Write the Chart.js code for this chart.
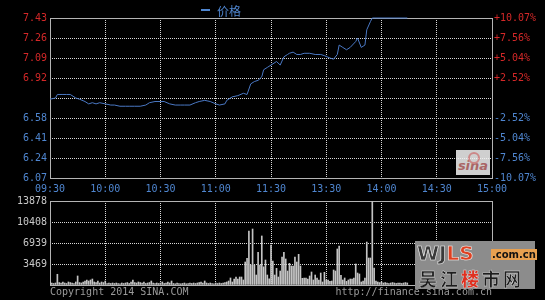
<!DOCTYPE html>
<html>
<head>
<meta charset="utf-8">
<script src="https://cdn.jsdelivr.net/npm/chart.js@4.4.0/dist/chart.umd.min.js"></script>
<style>
body { margin: 0; background: #000; }
#wrap { position: relative; width: 545px; height: 300px; background: #000; overflow: hidden; font-family: 'DejaVu Sans Mono', monospace; }
#priceChart { position: absolute; left: 0; top: 0; }
#volChart { position: absolute; left: 0; top: 190px; }
.copy { position: absolute; top: 286px; font-size: 10px; color: #9a9a9a; white-space: nowrap; }
#sina { position: absolute; left: 456px; top: 150px; width: 34px; height: 25px; background: #f4f4f4; color: #c87878; font: italic bold 13px 'DejaVu Sans', sans-serif; text-align: center; line-height: 32px; opacity: 0.85; }
#sina i { position: absolute; left: 12px; top: 2px; width: 8px; height: 8px; border: 2px solid #f0a0a0; border-radius: 50%; }
#wjls { position: absolute; left: 415px; top: 241px; width: 120px; height: 48px; background: #8c8c8c; }
#wjls .t1 { position: absolute; left: 2px; top: 0px; font: bold 20px 'DejaVu Sans', sans-serif; color: #3a3a3a; -webkit-text-stroke: 0.6px #f0f0f0; }
#wjls .t1 b { color: #e04020; }
#wjls .t2 { position: absolute; left: 76px; top: 8px; font: bold 10px 'DejaVu Sans', sans-serif; color: #111; background: #e8a050; padding: 0 1px; }
#wjls .t3 { position: absolute; left: 4px; top: 24px; font: bold 18px 'Noto Sans CJK SC', sans-serif; color: #1e1e1e; letter-spacing: 3px; -webkit-text-stroke: 0.4px #ddd; }
#wjls .t3 b { color: #e03020; }
</style>
</head>
<body>
<div id="wrap">
  <canvas id="priceChart" width="545" height="200"></canvas>
  <canvas id="volChart" width="545" height="110"></canvas>
  <div id="sina"><i></i>sina</div>
  <div id="wjls"><span class="t1">WJ<b>LS</b></span><span class="t2">.com.cn</span><span class="t3">吴江<b>楼</b>市网</span></div>
  <span class="copy" style="left:50px">Copyright 2014 SINA.COM</span>
  <span class="copy" style="right:53px">http://finance.sina.com.cn</span>
</div>
<script>
// axis values
const prevClose = 6.75;
const tickMinutes = [0, 30, 60, 90, 120, 150, 180, 210, 240];
const timeLabels = ['09:30', '10:00', '10:30', '11:00', '11:30', '13:30', '14:00', '14:30', '15:00'];
const priceTicks = [6.07, 6.24, 6.41, 6.58, 6.75, 6.92, 7.09, 7.26, 7.43];
const priceTickLabels = ['6.07', '6.24', '6.41', '6.58', '', '6.92', '7.09', '7.26', '7.43'];
const pctTickLabels = ['-10.07%', '-7.56%', '-5.04%', '-2.52%', '', '+2.52%', '+5.04%', '+7.56%', '+10.07%'];
const volTicks = [0, 3469, 6939, 10408, 13878];
const volTickLabels = ['', '3469', '6939', '10408', '13878'];

// price line, minute index from 09:30
const priceMinutes = [0, 3, 4, 7, 9, 11, 14, 16, 19, 21, 23, 25, 27, 30, 33, 35, 38, 41, 43, 46,
    49, 52, 54, 57, 60, 62, 65, 68, 71, 73, 76, 79, 81, 84, 87, 90, 92, 95, 96, 99,
    102, 105, 107, 109, 111, 113, 115, 116, 118, 120, 123, 125, 127, 129, 130, 132, 134, 136, 138, 141,
    144, 147, 149, 152, 154, 156, 157, 159, 161, 163, 166, 167, 169, 171, 172, 174, 175, 194];
const prices = [6.74, 6.75, 6.78, 6.78, 6.78, 6.78, 6.75, 6.74, 6.72, 6.70, 6.71, 6.70, 6.71, 6.70, 6.69, 6.69, 6.68, 6.68, 6.68, 6.68,
    6.68, 6.69, 6.71, 6.72, 6.72, 6.72, 6.70, 6.69, 6.69, 6.69, 6.69, 6.71, 6.72, 6.73, 6.72, 6.70, 6.69, 6.70, 6.73, 6.76,
    6.77, 6.79, 6.78, 6.87, 6.89, 6.90, 6.93, 6.99, 7.01, 7.03, 7.06, 7.03, 7.10, 7.12, 7.13, 7.14, 7.12, 7.12, 7.13, 7.13,
    7.12, 7.12, 7.11, 7.09, 7.08, 7.12, 7.20, 7.18, 7.16, 7.18, 7.23, 7.26, 7.18, 7.20, 7.33, 7.40, 7.43, 7.43];

// volume per minute
const volumes = [
    500, 330, 250, 330, 1770, 400, 330, 500, 330, 250,
    500, 400, 330, 250, 500, 1490, 400, 330, 500, 660,
    825, 660, 825, 990, 500, 400, 660, 330, 500, 400,
    660, 250, 330, 250, 330, 250, 330, 250, 200, 330,
    250, 330, 400, 250, 500, 825, 400, 330, 500, 400,
    330, 500, 250, 330, 400, 660, 330, 250, 330, 250,
    330, 500, 250, 330, 500, 330, 660, 250, 200, 330,
    250, 200, 250, 330, 200, 250, 330, 250, 330, 250,
    330, 400, 500, 330, 660, 330, 250, 330, 250, 200,
    330, 250, 330, 250, 330, 400, 500, 660, 1160, 500,
    990, 1320, 990, 1320, 1320, 830, 3800, 4400, 8920, 3300,
    9250, 3300, 1650, 5400, 3300, 8100, 3000, 4130, 1650, 1000,
    6600, 3960, 1650, 2750, 1320, 2310, 4630, 5400, 4300, 2310,
    3580, 3140, 3140, 4630, 3800, 5070, 3140, 1100, 1160, 1160,
    990, 1490, 2150, 830, 1650, 1160, 800, 1980, 500, 2100,
    830, 830, 600, 660, 2480, 2310, 5950, 6440, 1600, 830,
    1160, 600, 830, 990, 990, 1160, 3470, 1980, 1820, 500,
    660, 1160, 7100, 4460, 4460, 13878, 2810, 660, 500, 400,
    500, 330, 400, 330, 250, 330, 400, 330, 250, 330,
    330, 250, 330, 400, 330
];

const MONO = "'DejaVu Sans Mono', monospace";
const RED = '#d42828';
const BLUE = '#4f86d0';
const LINE = '#4a78c4';
const GRID = '#d8d8d8';

// solid frame round the plot area
const frame = {
    id: 'frame',
    beforeDatasetsDraw(chart) {
        const a = chart.chartArea, ctx = chart.ctx;
        ctx.save();
        ctx.strokeStyle = '#b4b4b4';
        ctx.lineWidth = 1;
        ctx.strokeRect(Math.round(a.left) + 0.5, Math.round(a.top) + 0.5, Math.round(a.right - a.left), Math.round(a.bottom - a.top));
        ctx.restore();
    }
};

const priceLegend = {
    id: 'priceLegend',
    afterDraw(chart) {
        const ctx = chart.ctx;
        ctx.save();
        ctx.fillStyle = BLUE;
        ctx.fillRect(201, 9, 9, 2);
        ctx.font = "12px 'Noto Sans CJK SC', sans-serif";
        ctx.textBaseline = 'middle';
        ctx.fillText('价格', 217, 11);
        ctx.restore();
    }
};

const tickColor = c => (c.tick && c.tick.value > prevClose ? RED : BLUE);

new Chart(document.getElementById('priceChart'), {
    type: 'line',
    data: {
        datasets: [{
            label: '价格',
            data: priceMinutes.map((m, i) => ({ x: m, y: prices[i] })),
            borderColor: LINE,
            borderWidth: 1,
            pointRadius: 0,
            tension: 0,
            clip: false,
            yAxisID: 'y'
        }]
    },
    options: {
        responsive: false,
        animation: false,
        events: [],
        layout: { padding: { top: 18, left: 0, right: 0, bottom: 0 } },
        plugins: { legend: { display: false }, tooltip: { enabled: false } },
        scales: {
            x: {
                type: 'linear', min: 0, max: 240,
                afterBuildTicks: s => { s.ticks = tickMinutes.map(v => ({ value: v })); },
                afterFit: s => { s.height = 22; },
                ticks: { color: BLUE, font: { family: MONO, size: 10 }, padding: 5, autoSkip: false, maxRotation: 0,
                    callback: (v, i) => timeLabels[i] },
                grid: { color: GRID, drawTicks: false },
                border: { display: false, dash: [1, 1] }
            },
            y: {
                position: 'left', min: 6.07, max: 7.43,
                afterBuildTicks: s => { s.ticks = priceTicks.map(v => ({ value: v })); },
                afterFit: s => { s.width = 50; },
                ticks: { color: tickColor, font: { family: MONO, size: 10 }, padding: 3,
                    callback: (v, i) => priceTickLabels[i] },
                grid: { color: GRID, drawTicks: false },
                border: { display: false, dash: [1, 1] }
            },
            yPct: {
                position: 'right', min: 6.07, max: 7.43,
                afterBuildTicks: s => { s.ticks = priceTicks.map(v => ({ value: v })); },
                afterFit: s => { s.width = 53; },
                ticks: { color: tickColor, font: { family: MONO, size: 10 }, padding: 2,
                    callback: (v, i) => pctTickLabels[i] },
                grid: { display: false, drawTicks: false },
                border: { display: false }
            }
        }
    },
    plugins: [frame, priceLegend]
});

new Chart(document.getElementById('volChart'), {
    type: 'bar',
    data: {
        datasets: [{
            label: '成交量',
            data: volumes.map((v, i) => ({ x: i, y: v })),
            backgroundColor: '#c4c4c4',
            barThickness: 1,
            borderWidth: 0
        }]
    },
    options: {
        responsive: false,
        animation: false,
        events: [],
        layout: { padding: { top: 11, left: 0, right: 53, bottom: 0 } },
        plugins: { legend: { display: false }, tooltip: { enabled: false } },
        scales: {
            x: {
                type: 'linear', min: 0, max: 240, offset: false,
                afterBuildTicks: s => { s.ticks = tickMinutes.map(v => ({ value: v })); },
                afterFit: s => { s.height = 15; },
                ticks: { display: false },
                grid: { color: GRID, drawTicks: false, offset: false },
                border: { display: false, dash: [1, 1] }
            },
            y: {
                position: 'left', min: 0, max: 13878,
                afterBuildTicks: s => { s.ticks = volTicks.map(v => ({ value: v })); },
                afterFit: s => { s.width = 50; },
                ticks: { color: '#c8c8c8', font: { family: MONO, size: 10 }, padding: 3,
                    callback: (v, i) => volTickLabels[i] },
                grid: { color: GRID, drawTicks: false },
                border: { display: false, dash: [1, 1] }
            }
        }
    },
    plugins: [frame]
});
</script>
</body>
</html>
